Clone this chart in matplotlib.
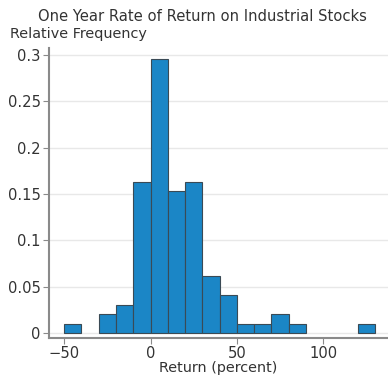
import matplotlib
matplotlib.use("Agg")
import matplotlib.pyplot as plt
import numpy as np

# Histogram of one-year returns (bin left edges, width 10 percent)
bin_lefts = [-50, -40, -30, -20, -10, 0, 10, 20, 30, 40, 50, 60, 70, 80, 90, 100, 110, 120]
rel_freq = [0.0102, 0.0, 0.0204, 0.0306, 0.1633, 0.2959, 0.1531, 0.1633, 0.0612,
            0.0408, 0.0102, 0.0102, 0.0204, 0.0102, 0.0, 0.0, 0.0, 0.0102]
bin_width = 10
x_ticks = [-50, 0, 50, 100]
y_ticks = [0, 0.05, 0.1, 0.15, 0.2, 0.25, 0.3]
y_tick_labels = ["0", "0.05", "0.1", "0.15", "0.2", "0.25", "0.3"]

plt.rcParams["font.family"] = ["DejaVu Sans"]
fig = plt.figure(figsize=(3.88, 3.77), dpi=100)
ax = fig.add_axes([0.1263, 0.1034, 0.8737, 0.7693])

# empty bins are left undrawn so no outline sits on the baseline
lefts = np.array(bin_lefts, dtype=float)
freqs = np.array(rel_freq)
nonzero = freqs > 0
ax.bar(lefts[nonzero], freqs[nonzero], width=bin_width, align="edge",
       color="#1b86c6", edgecolor="#3a4a55", linewidth=0.8, zorder=3)

ax.set_xlim(-58.8, 137.5)
ax.set_ylim(-0.0054, 0.3076)
ax.set_xticks(x_ticks)
ax.set_yticks(y_ticks)
ax.set_yticklabels(y_tick_labels)
ax.grid(axis="y", color="#e8e8e8", linewidth=1.0, zorder=0)

for side in ("top", "right"):
    ax.spines[side].set_visible(False)
for side in ("left", "bottom"):
    ax.spines[side].set_color("#8a8a8a")
    ax.spines[side].set_linewidth(1.5)

ax.tick_params(axis="both", colors="#8a8a8a", labelcolor="#333333",
               labelsize=10.6, length=4, width=0.8, pad=2)

ax.set_xlabel("Return (percent)", fontsize=10.4, color="#333333", labelpad=0)
fig.text(0.522, 0.955, "One Year Rate of Return on Industrial Stocks",
         ha="center", va="center", fontsize=10.6, color="#333333")
fig.text(0.026, 0.91, "Relative Frequency", ha="left", va="center",
         fontsize=10.4, color="#333333")

fig.savefig("out.png", dpi=100)
